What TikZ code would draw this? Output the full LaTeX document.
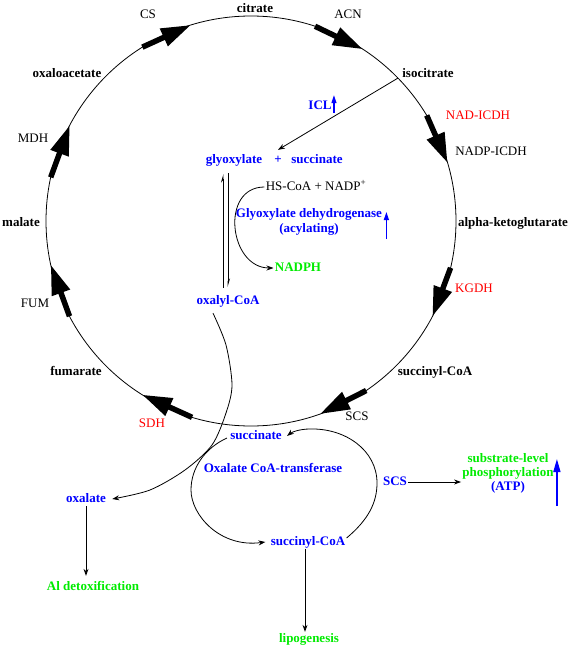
\documentclass[tikz,border=0pt]{standalone}
\usepackage{fontspec}
\setmainfont{Liberation Serif}
\usepackage{tikz}
\usetikzlibrary{arrows.meta}
\definecolor{grn}{RGB}{0,235,0}
\tikzset{
  every node/.style={inner sep=1pt,text height=9pt,text depth=2.5pt,font=\fontsize{13}{15}\selectfont},
  met/.style={font=\fontsize{13}{15}\selectfont\bfseries},
  bigarrow/.style={line width=5.5pt,-{Triangle[length=30pt,width=18pt]}},
  flow/.style={-{Stealth[length=7pt,width=5pt]}},
  harp/.style={-{Stealth[harpoon,length=7pt,width=4pt]},shorten <=6pt,shorten >=7pt},
  upmark/.style={blue,line width=1.2pt,-{Triangle[length=8pt,width=5pt]}},
  bigup/.style={blue,line width=1.5pt,-{Triangle[length=13pt,width=7pt]}}
}

\begin{document}
\begin{tikzpicture}[x=1pt,y=-1pt,line width=0.8pt]
 \useasboundingbox (0,0) rectangle (576,650);
 \draw (251,221) circle[radius=205pt];
 \begin{scope}[shift={(251,221)}]
  \draw[bigarrow] (-122:205) -- (-107:205);
  \draw[bigarrow] (-71.8:205) -- (-56.9:205);
  \draw[bigarrow] (-31:205) -- (-16.4:205);
  \draw[bigarrow] (13.2:205) -- (27.8:205);
  \draw[bigarrow] (55.8:205) -- (70.4:205);
  \draw[bigarrow] (106.7:205) -- (122.1:205);
  \draw[bigarrow] (152.3:205) -- (167.7:205);
  \draw[bigarrow] (192.3:205) -- (207.9:205);
  \coordinate (icl0) at (-44.2:205);
 \end{scope}

 \node[met] (cit) at (255,9) {citrate};
 \node[met] (oaa) at (67,74) {oxaloacetate};
 \node[met] (iso) at (428,74) {isocitrate};
 \node[met] (akg) at (513,223) {alpha-ketoglutarate};
 \node[met] (mal) at (21,223) {malate};
 \node[met] (fuma) at (76,372) {fumarate};
 \node[met] (succoa) at (435,372) {succinyl-CoA};
 \node (cs) at (148,15) {CS};
 \node (acn) at (348,15) {ACN};
 \node[red] (nad) at (478,116) {NAD-ICDH};
 \node (nadp) at (491,152) {NADP-ICDH};
 \node[red] (kgdh) at (474,289) {KGDH};
 \node (scs) at (357,417) {SCS};
 \node[red] (sdh) at (152,424) {SDH};
 \node (fum) at (35,304) {FUM};
 \node (mdh) at (33,139) {MDH};

 \node[met,blue] (icl) at (320,106) {ICL};
 \node[met,blue] (glyox) at (234,160) {glyoxylate};
 \node[met,blue] (plus) at (278,160) {+};
 \node[met,blue] (succ) at (317,160) {succinate};
 \node (hscoa) at (316,187) {HS-CoA + NADP\textsuperscript{+}};
 \node[met,blue,align=center] (gdh) at (309,229) {Glyoxylate dehydrogenase\\(acylating)};
 \node[met,grn] (nadph) at (298,268) {NADPH};
 \node[met,blue] (oxcoa) at (228,301) {oxalyl-CoA};
 \node[met,blue] (succ2) at (256,436) {succinate};
 \node[met,blue] (oct) at (273,469) {Oxalate CoA-transferase};
 \node[met,blue] (succoa2) at (308,542) {succinyl-CoA};
 \node[met,blue] (scs2) at (395,482) {SCS};
 \node[met,grn,align=center,font=\fontsize{13}{14}\selectfont\bfseries] (slp) at (508,487) {substrate-level\\phosphorylation\\\textcolor{blue}{(ATP)}};
 \node[met,blue] (oxal) at (86,499) {oxalate};
 \node[met,grn] (aldet) at (93,587) {Al detoxification};
 \node[met,grn] (lipo) at (309,639) {lipogenesis};

 \draw[flow] (icl0) -- ([yshift=3pt]plus.north);
 \draw[upmark] ([xshift=1pt]icl.south east) -- ++(0,-18);
 \draw[harp] ([xshift=-5pt]oxcoa.north) -- ([xshift=-11pt]glyox.south);
 \draw[harp] ([xshift=-6pt]glyox.south) -- (oxcoa.north);
 \draw[flow] (hscoa.west) to[out=180,in=180,looseness=1.4] (nadph.west);
 \draw[upmark] ([xshift=3pt,yshift=-10pt]gdh.east) -- ++(0,-27);
 \draw[flow] plot[smooth] coordinates {([xshift=-15pt,yshift=-5pt]oxcoa.south) (226,345) (232,385) (226,413) (212,445) (185,470) (150,490) ([xshift=5pt]oxal.east)};
 \draw[flow] ([yshift=4pt]succoa2.east) .. controls (368,520) and (377,503) .. (377,483) .. controls (377,450) and (345,428) .. (310,429) .. controls (300,429) and (292,432) .. ([xshift=4pt]succ2.east);
 \draw[flow] ([xshift=-2pt,yshift=-2pt]succ2.west) .. controls (205,448) and (191,468) .. (191,490) .. controls (191,515) and (220,548) .. ([xshift=-4pt]succoa2.west);
 \draw[flow] (scs2.east) -- (scs2.east -| slp.west);
 \draw[bigup] ([xshift=2pt,yshift=-19pt]slp.east) -- ++(0,-47);
 \draw[flow,shorten >=4pt] (oxal.south) -- (oxal.south |- aldet.north);
 \draw[flow] ([xshift=-3pt]succoa2.south) -- ([xshift=-3pt]succoa2.south |- lipo.north);
\end{tikzpicture}
\end{document}
